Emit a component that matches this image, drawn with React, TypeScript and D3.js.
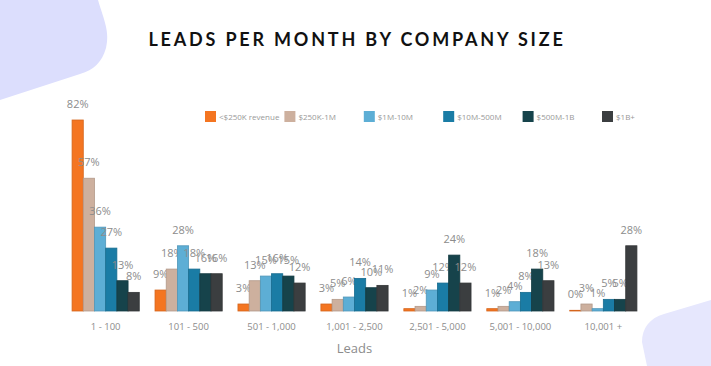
import * as d3 from 'd3';
import React, { useEffect, useRef } from 'react';

const categories = ['1 - 100', '101 - 500', '501 - 1,000', '1,001 - 2,500', '2,501 - 5,000', '5,001 - 10,000', '10,001 +'];
const seriesNames = ['<$250K revenue', '$250K-1M', '$1M-10M', '$10M-500M', '$500M-1B', '$1B+'];
const seriesColors = ['#f47521', '#cdb09e', '#5daed5', '#1a7ca5', '#16434b', '#3b3e40'];

// one array per revenue band, one value per leads bucket
const under250k = [82, 9, 3, 3, 1, 1, 0.3];
const from250kTo1m = [57, 18, 13, 5, 2, 2, 3];
const from1mTo10m = [36, 28, 15, 6, 9, 4, 1];
const from10mTo500m = [27, 18, 16, 14, 12, 8, 5];
const from500mTo1b = [13, 16, 15, 10, 24, 18, 5];
const over1b = [8, 16, 12, 11, 12, 13, 28];

const series = [under250k, from250kTo1m, from1mTo10m, from10mTo500m, from500mTo1b, over1b];

export default function App() {
  const ref = useRef<SVGSVGElement>(null);

  useEffect(() => {
    const baseline = 311;

    const svg = d3.select(ref.current);
    svg.selectAll('*').remove();

    // background blobs
    svg
      .append('path')
      .attr('d', 'M0,0 L98,0 C104,20 110,32 106,48 C102,62 94,70 80,74 L0,100 Z')
      .attr('fill', '#dcdefd');
    svg
      .append('path')
      .attr('d', 'M711,300 L664,314 C650,318 642,328 642,342 L647,366 L711,366 Z')
      .attr('fill', '#e6e7fd');

    svg
      .append('text')
      .attr('x', 357)
      .attr('y', 46)
      .attr('text-anchor', 'middle')
      .attr('font-family', 'Lato, sans-serif')
      .attr('font-weight', 700)
      .attr('font-size', 18)
      .attr('letter-spacing', 2.8)
      .attr('fill', '#111')
      .text('LEADS PER MONTH BY COMPANY SIZE');

    const x0 = d3
      .scaleBand()
      .domain(categories)
      .range([64.2, 644.8])
      .paddingInner(0.19)
      .paddingOuter(0.095);
    const x1 = d3
      .scaleBand()
      .domain(seriesNames)
      .range([0, x0.bandwidth()]);
    const y = d3.scaleLinear().domain([0, 82]).range([baseline, 120]);

    const groups = svg
      .append('g')
      .selectAll('g')
      .data(categories)
      .enter()
      .append('g')
      .attr('transform', (d) => `translate(${x0(d)},0)`);

    const cells = groups
      .selectAll('g')
      .data((d, i) => series.map((s, j) => ({ name: seriesNames[j], value: s[i], color: seriesColors[j] })))
      .enter()
      .append('g');

    cells
      .append('rect')
      .attr('x', (d) => x1(d.name)!)
      .attr('y', (d) => y(d.value))
      .attr('width', x1.bandwidth())
      .attr('height', (d) => baseline - y(d.value))
      .attr('fill', (d) => d.color)
      .attr('stroke', (d) => d3.color(d.color)!.darker(0.4).toString())
      .attr('stroke-width', 0.8);

    cells
      .append('text')
      .attr('x', (d) => x1(d.name)! + x1.bandwidth() / 2)
      .attr('y', (d) => y(d.value) - 12)
      .attr('text-anchor', 'middle')
      .attr('font-family', 'Open Sans, sans-serif')
      .attr('font-size', 11)
      .attr('fill', '#8c8c8c')
      .text((d) => `${Math.round(d.value)}%`);

    const axis = svg
      .append('g')
      .attr('transform', `translate(0,${baseline})`)
      .call(d3.axisBottom(x0).tickSize(0).tickPadding(12));
    axis.select('.domain').remove();
    axis
      .selectAll('text')
      .attr('font-family', 'Open Sans, sans-serif')
      .attr('font-size', 9.5)
      .attr('fill', '#8c8c8c');

    svg
      .append('text')
      .attr('x', x0(categories[3])! + x0.bandwidth() / 2)
      .attr('y', 353)
      .attr('text-anchor', 'middle')
      .attr('font-family', 'Open Sans, sans-serif')
      .attr('font-size', 13)
      .attr('fill', '#8c8c8c')
      .text('Leads');

    // legend
    const legendX = d3.scalePoint().domain(seriesNames).range([205, 602]);
    const legend = svg
      .append('g')
      .selectAll('g')
      .data(seriesNames)
      .enter()
      .append('g')
      .attr('transform', (d) => `translate(${legendX(d)},111)`);
    legend
      .append('rect')
      .attr('width', 11)
      .attr('height', 11)
      .attr('fill', (d, i) => seriesColors[i]);
    legend
      .append('text')
      .attr('x', 14)
      .attr('y', 8.5)
      .attr('font-family', 'Open Sans, sans-serif')
      .attr('font-size', 8)
      .attr('fill', '#999')
      .text((d) => d);
  }, []);

  return (
    <div style={{ position: 'fixed', left: 0, top: 0 }}>
      <svg ref={ref} width={711} height={366} style={{ display: 'block', background: '#fff' }}></svg>
    </div>
  );
}
